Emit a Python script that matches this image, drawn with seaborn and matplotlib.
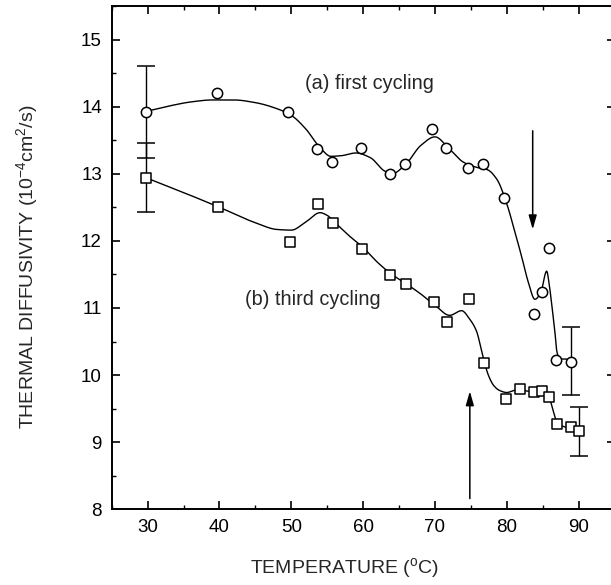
import numpy as np
import pandas as pd
import matplotlib
matplotlib.use("Agg")
import matplotlib.pyplot as plt
import seaborn as sns
from matplotlib.ticker import MultipleLocator

# ---- data ----
a_temp = [29.8, 39.6, 49.6, 53.6, 55.65, 59.65, 63.7, 65.8, 69.65, 71.6,
          74.6, 76.7, 79.6, 83.8, 84.85, 85.8, 86.9, 89.0]
a_diff = [13.92, 14.20, 13.92, 13.37, 13.18, 13.39, 12.99, 13.15, 13.67, 13.39,
          13.08, 13.15, 12.64, 10.91, 11.24, 11.89, 10.23, 10.20]

b_temp = [29.8, 39.8, 49.75, 53.7, 55.8, 59.8, 63.8, 65.9, 69.8, 71.7,
          74.75, 76.85, 79.9, 81.9, 83.8, 84.9, 85.9, 87.0, 88.9, 90.05]
b_diff = [12.94, 12.51, 11.98, 12.55, 12.26, 11.88, 11.49, 11.35, 11.09, 10.79,
          11.14, 10.18, 9.65, 9.80, 9.75, 9.77, 9.67, 9.27, 9.22, 9.16]

# error bars (x, y, half-width)
a_err_x = [29.8, 88.9]
a_err_y = [13.92, 10.21]
a_err = [0.69, 0.51]
b_err_x = [29.8, 90.05]
b_err_y = [12.945, 9.16]
b_err = [0.515, 0.36]

# smooth guide curves: knots
a_curve_x = [29.8, 33, 36, 39, 42, 45, 48, 50, 52, 54, 55.5, 57, 59, 61, 63, 64,
             66, 68, 70, 72, 74, 76, 77.3, 78.6, 80, 80.9, 82.05, 83.0, 83.9,
             84.7, 85.55, 85.9, 86.2, 86.7, 87.0, 87.5, 88.2, 89.0]
a_curve_y = [13.93, 14.01, 14.07, 14.10, 14.10, 14.06, 13.97, 13.87, 13.67, 13.39,
             13.26, 13.27, 13.31, 13.24, 13.04, 13.00, 13.15, 13.42, 13.55, 13.37,
             13.17, 13.09, 13.06, 12.92, 12.55, 12.22, 11.77, 11.38, 11.13,
             11.22, 11.55, 11.35, 11.10, 10.63, 10.33, 10.24, 10.24, 10.20]

b_curve_x = [29.8, 35, 40, 45, 48, 50, 52, 54, 55, 56, 58, 60, 62, 64, 66, 68,
             70, 72.05, 73.7, 74.85, 75.8, 76.4, 76.9, 77.5, 78.2, 79, 80, 81,
             82, 83, 84, 85, 86, 86.5, 87, 88, 89, 90.05]
b_curve_y = [12.94, 12.72, 12.50, 12.27, 12.17, 12.16, 12.28, 12.42, 12.38, 12.28,
             12.08, 11.90, 11.68, 11.50, 11.36, 11.21, 11.04, 10.89, 10.96, 10.83,
             10.65, 10.40, 10.18, 9.98, 9.84, 9.77, 9.74, 9.77, 9.78, 9.76, 9.76,
             9.75, 9.63, 9.45, 9.29, 9.23, 9.20, 9.16]

x_ticks = [30, 40, 50, 60, 70, 80, 90]
y_ticks = [8, 9, 10, 11, 12, 13, 14, 15]


def pchip(xk, yk, xs):
    xk = np.asarray(xk, float); yk = np.asarray(yk, float)
    h = np.diff(xk); d = np.diff(yk) / h
    n = len(xk); m = np.zeros(n)
    for k in range(1, n - 1):
        if d[k - 1] * d[k] > 0:
            w1 = 2 * h[k] + h[k - 1]; w2 = h[k] + 2 * h[k - 1]
            m[k] = (w1 + w2) / (w1 / d[k - 1] + w2 / d[k])
    m[0] = d[0]; m[-1] = d[-1]
    idx = np.clip(np.searchsorted(xk, xs) - 1, 0, n - 2)
    t = (xs - xk[idx]) / h[idx]
    h00 = 2 * t**3 - 3 * t**2 + 1; h10 = t**3 - 2 * t**2 + t
    h01 = -2 * t**3 + 3 * t**2; h11 = t**3 - t**2
    return (h00 * yk[idx] + h10 * h[idx] * m[idx] + h01 * yk[idx + 1]
            + h11 * h[idx] * m[idx + 1])


sns.set_theme(style="ticks")
plt.rcParams['font.family'] = ['Liberation Sans', 'DejaVu Sans']
plt.rcParams['mathtext.fontset'] = 'custom'
plt.rcParams['mathtext.rm'] = 'Liberation Sans'
plt.rcParams['mathtext.it'] = 'Liberation Sans'
plt.rcParams['mathtext.default'] = 'regular'

fig = plt.figure(figsize=(6.11, 5.85), dpi=100)
ax = fig.add_axes([111.7 / 611, (585 - 509.3) / 585, 502.9 / 611, 503.3 / 585])

xa = np.linspace(a_curve_x[0], a_curve_x[-1], 600)
xb = np.linspace(b_curve_x[0], b_curve_x[-1], 600)
ca = pd.DataFrame({"T": xa, "D": pchip(a_curve_x, a_curve_y, xa)})
cb = pd.DataFrame({"T": xb, "D": pchip(b_curve_x, b_curve_y, xb)})
sns.lineplot(data=ca, x="T", y="D", ax=ax, color="black", lw=1.0, sort=False)
sns.lineplot(data=cb, x="T", y="D", ax=ax, color="black", lw=1.0, sort=False)

ax.errorbar(a_err_x, a_err_y, yerr=a_err, fmt="none", ecolor="black",
            elinewidth=1.0, capsize=6.7, capthick=1.1, zorder=2)
ax.errorbar(b_err_x, b_err_y, yerr=b_err, fmt="none", ecolor="black",
            elinewidth=1.0, capsize=6.7, capthick=1.1, zorder=2)

pa = pd.DataFrame({"T": a_temp, "D": a_diff})
pb = pd.DataFrame({"T": b_temp, "D": b_diff})
sns.scatterplot(data=pa, x="T", y="D", ax=ax, marker="o", s=55,
                facecolor="white", edgecolor="black", linewidth=1.1, zorder=3)
sns.scatterplot(data=pb, x="T", y="D", ax=ax, marker="s", s=48,
                facecolor="white", edgecolor="black", linewidth=1.1, zorder=3)

ax.text(51.85, 14.34, "(a) first cycling", fontsize=14.3, va="center", ha="left")
ax.text(43.5, 11.13, "(b) third cycling", fontsize=14.3, va="center", ha="left")

arrow = dict(arrowstyle="-|>,head_length=0.7,head_width=0.2", color="black",
             lw=1.1, shrinkA=0, shrinkB=0)
ax.annotate("", xy=(83.6, 12.17), xytext=(83.6, 13.64), arrowprops=arrow)
ax.annotate("", xy=(74.85, 9.76), xytext=(74.85, 8.16), arrowprops=arrow)

ax.set_xlim(25, 95)
ax.set_ylim(8, 15.5)
ax.set_xticks(x_ticks)
ax.set_yticks(y_ticks)
ax.xaxis.set_minor_locator(MultipleLocator(5))
ax.yaxis.set_minor_locator(MultipleLocator(0.5))
ax.tick_params(which="both", direction="in", top=True, right=True,
               labelsize=13.5, color="black", labelcolor="black")
ax.tick_params(which="major", length=6, width=1.2, pad=7)
ax.tick_params(which="minor", length=3, width=1.0)
for s in ax.spines.values():
    s.set_linewidth(1.4)
    s.set_color("black")

ax.set_xlabel("TEMPERATURE ($^{\\rm o}$C)", fontsize=14)
ax.set_ylabel("THERMAL DIFFUSIVITY (10$^{-4}$cm$^{2}$/s)", fontsize=14)
ax.xaxis.set_label_coords(0.462, -0.0928)
ax.yaxis.set_label_coords(-0.1426, 0.481)
ax.grid(False)

fig.savefig("out.png", dpi=100)
